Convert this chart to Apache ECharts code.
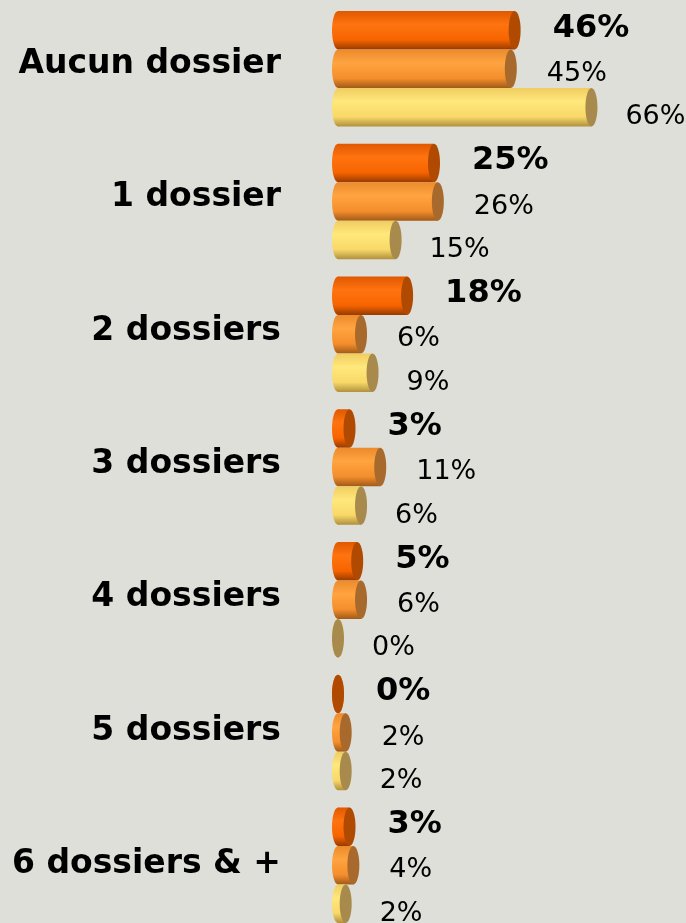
<!DOCTYPE html>
<html>
<head>
<meta charset="utf-8">
<script src="https://cdn.jsdelivr.net/npm/echarts@6/dist/echarts.min.js"></script>
<style>
  html, body { margin: 0; padding: 0; background: #dfdfda; }
  #chart { width: 686px; height: 923px; }
</style>
</head>
<body>
<div id="chart"></div>
<script>
// données (en %)
const categories = ['Aucun dossier', '1 dossier', '2 dossiers', '3 dossiers', '4 dossiers', '5 dossiers', '6 dossiers & +'];
const serie1 = [46, 25, 18, 3, 5, 0, 3];
const serie2 = [45, 26, 6, 11, 6, 2, 4];
const serie3 = [66, 15, 9, 6, 0, 2, 2];

// couleurs des cylindres : dégradé du corps + couleur du bout
const styles = [
  { stops: ['#e05800', '#ff7410', '#f66400', '#983a00'], cap: '#b04a00', bold: true, dx: 32, dy: -2 },
  { stops: ['#ec8a2c', '#ffa440', '#f48e2c', '#a05a18'], cap: '#a86a2c', bold: false, dx: 30, dy: 5 },
  { stops: ['#f0cc60', '#ffe87c', '#f8d868', '#b0903c'], cap: '#a88a4c', bold: false, dx: 28, dy: 10 }
];

const BAR_H = 38.5;
const CAP_RX = 6;

function makeRender(s, slot) {
  return function (params, api) {
    const v = api.value(1);
    const idx = api.value(0);
    const start = api.coord([0, idx]);
    const end = api.coord([v, idx]);
    const cy = start[1] + (slot - 1) * BAR_H;
    const grad = new echarts.graphic.LinearGradient(0, 0, 0, 1, [
      { offset: 0, color: s.stops[0] },
      { offset: 0.35, color: s.stops[1] },
      { offset: 0.75, color: s.stops[2] },
      { offset: 1, color: s.stops[3] }
    ]);
    return {
      type: 'group',
      children: [
        {
          type: 'ellipse',
          shape: { cx: start[0], cy: cy, rx: CAP_RX, ry: BAR_H / 2 },
          style: { fill: grad }
        },
        {
          type: 'rect',
          shape: { x: start[0], y: cy - BAR_H / 2, width: end[0] - start[0], height: BAR_H },
          style: { fill: grad }
        },
        {
          type: 'ellipse',
          shape: { cx: end[0], cy: cy, rx: CAP_RX, ry: BAR_H / 2 },
          style: { fill: s.cap }
        },
        {
          type: 'text',
          x: end[0] + CAP_RX + s.dx,
          y: cy + s.dy,
          style: {
            text: v + '%',
            fill: '#000',
            font: (s.bold ? 'bold 32px' : '27px') + ' "DejaVu Sans"',
            verticalAlign: 'middle',
            align: 'left'
          }
        }
      ]
    };
  };
}

const series = [serie1, serie2, serie3].map(function (vals, i) {
  return {
    type: 'custom',
    renderItem: makeRender(styles[i], i),
    data: vals.map(function (v, j) { return [j, v]; }),
    encode: { y: 0, x: 1 },
    clip: false
  };
});

const chart = echarts.init(document.getElementById('chart'));
chart.setOption({
  backgroundColor: '#dfdfda',
  animation: false,
  // grille 0 : les barres ; grille 1 : seulement les libellés (espacement un peu différent)
  grid: [
    { left: 338, top: 2.4, width: 345.6, height: 929.2, outerBoundsMode: 'none' },
    { left: 338, top: -2.5, width: 345.6, height: 933.8, outerBoundsMode: 'none' }
  ],
  xAxis: [
    { type: 'value', min: 0, max: 90, show: false, gridIndex: 0 },
    { type: 'value', min: 0, max: 90, show: false, gridIndex: 1 }
  ],
  yAxis: [
    {
      type: 'category',
      gridIndex: 0,
      data: categories,
      inverse: true,
      show: false
    },
    {
      type: 'category',
      gridIndex: 1,
      data: categories,
      inverse: true,
      axisLine: { show: false },
      axisTick: { show: false },
      splitLine: { show: false },
      axisLabel: {
        margin: 57,
        color: '#000',
        fontFamily: 'DejaVu Sans',
        fontWeight: 'bold',
        fontSize: 33
      }
    }
  ],
  series: series
});
</script>
</body>
</html>
